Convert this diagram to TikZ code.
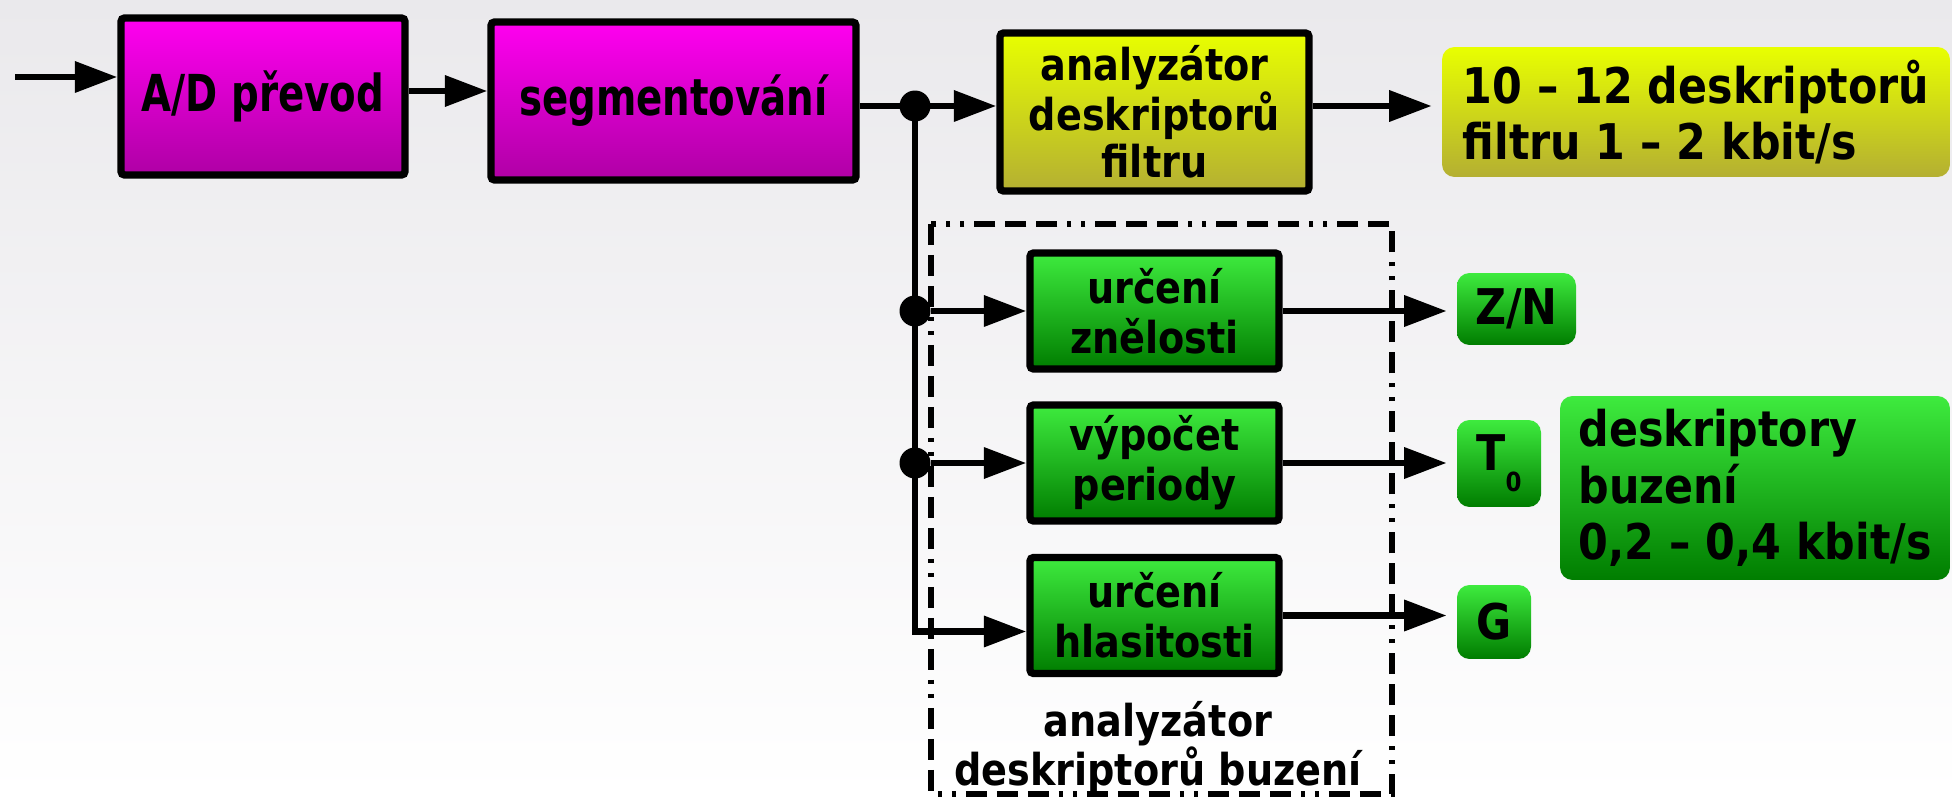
\documentclass[tikz,border=0pt]{standalone}
\usepackage{fontspec}
\setmainfont{DejaVu Sans}[FakeStretch=0.87]
\newfontfamily\condfont{DejaVu Sans}[FakeStretch=0.76]
\usetikzlibrary{arrows.meta,positioning,calc}

\definecolor{bgtop}{RGB}{234,233,236}
\definecolor{bgmid}{RGB}{250,250,250}
\definecolor{magtop}{RGB}{255,0,240}
\definecolor{magbot}{RGB}{175,0,165}
\definecolor{yeltop}{RGB}{232,255,0}
\definecolor{yelbot}{RGB}{180,175,50}
\definecolor{grntop}{RGB}{62,235,62}
\definecolor{grnbot}{RGB}{0,125,0}

\begin{document}
\begin{tikzpicture}[
    x=0.02cm, y=-0.02cm,
    font=\bfseries,
    arr/.style={-{Triangle[length=0.85cm,width=0.6cm]}, line width=3.8pt},
    wire/.style={line width=3.8pt},
    magbox/.style={rectangle, draw, line width=4.2pt, rounded corners=2pt, top color=magtop, bottom color=magbot, align=center, font=\condfont\bfseries\fontsize{29}{33}\selectfont},
    yelbox/.style={rectangle, draw, line width=4.2pt, rounded corners=2pt, top color=yeltop, bottom color=yelbot, align=center, font=\bfseries\fontsize{25}{27}\selectfont},
    grnbox/.style={rectangle, draw, line width=4.2pt, rounded corners=2pt, top color=grntop, bottom color=grnbot, align=center, font=\bfseries\fontsize{25}{28.5}\selectfont},
    res/.style={rectangle, rounded corners=0.25cm, inner sep=0pt, align=center, font=\bfseries\fontsize{28}{32}\selectfont},
    dot/.style={circle, fill, inner sep=0pt, minimum size=0.62cm},
    dashbox/.style={line width=3.8pt, dash pattern=on 0.42cm off 0.2cm on 0.42cm off 0.2cm on 0.42cm off 0.2cm on 0.08cm off 0.2cm on 0.08cm off 0.2cm},
    lbl/.style={align=center, font=\bfseries\fontsize{25}{27}\selectfont},
  ]

  % background
  \shade[top color=bgtop, middle color=bgmid, bottom color=white] (0,0) rectangle (1952,797);
  \useasboundingbox (0,0) rectangle (1952,797);

  %% top row
  \node[magbox, minimum width=5.68cm, minimum height=3.14cm] (ad)  at (263,96.5) {A/D převod};
  \node[magbox, minimum width=7.3cm,  minimum height=3.16cm] (seg) at (673.5,101) {segmentování};
  \node[yelbox, minimum width=6.18cm, minimum height=3.16cm] (ana) at (1154.5,112) {analyzátor\\deskriptorů\\filtru};
  \node[res, top color=yeltop, bottom color=yelbot, minimum width=10.16cm, minimum height=2.6cm,
        align=left] (out) at (1696,112) {10 – 12 deskriptorů\\filtru 1 – 2 kbit/s};

  %% excitation analysis
  \draw[dashbox] (931,224) rectangle (1392,794);
  \node[grnbox, minimum width=4.98cm, minimum height=2.32cm] (zne) at (1154.5,311)   {určení\\znělosti};
  \node[grnbox, minimum width=4.98cm, minimum height=2.32cm] (per) at (1154.5,463)   {výpočet\\periody};
  \node[grnbox, minimum width=4.98cm, minimum height=2.32cm] (hla) at (1154.5,615.5) {určení\\hlasitosti};
  \node[lbl] (bzlbl) at (1158,748) {analyzátor\\deskriptorů buzení};

  %% outputs
  \node[res, top color=grntop, bottom color=grnbot, minimum width=2.38cm, minimum height=1.44cm] (zn) at (1516.5,309) {Z/N};
  \node[res, top color=grntop, bottom color=grnbot, minimum width=1.68cm, minimum height=1.74cm] (t0) at (1499,463.5)
    {T\raisebox{-12pt}{\fontsize{15}{15}\selectfont 0}};
  \node[res, top color=grntop, bottom color=grnbot, minimum width=1.48cm, minimum height=1.48cm] (g)  at (1494,622) {G};
  \node[res, top color=grntop, bottom color=grnbot, minimum width=7.8cm, minimum height=3.68cm,
        align=left] (desc) at (1755,488) {deskriptory\\buzení\\0,2 – 0,4 kbit/s};

  %% connectors
  \coordinate (in) at (15,77);
  \coordinate (split) at (915,106);
  \draw[arr] (in) -- (in -| ad.west);
  \draw[arr] ([yshift=0.11cm]ad.east) -- ([yshift=0.11cm]ad.east -| seg.west);
  \draw[wire] (split -| seg.east) -- (split);
  \draw[arr] (split) -- (split -| ana.west);
  \draw[arr, shorten >=0.2cm] (split -| ana.east) -- (split -| out.west);
  \node[dot] (d0) at (split) {};
  \node[dot] (d1) at (split |- zne.west) {};
  \node[dot] (d2) at (split |- per.west) {};
  \draw[arr] (split) |- ([yshift=-0.32cm]hla.west);
  \draw[arr] (d1) -- (zne.west);
  \draw[arr] (d2) -- (per.west);
  \draw[arr, shorten >=0.2cm] (zne.east) -- (zne.east -| zn.west);
  \draw[arr, shorten >=0.2cm] (per.east) -- (per.east -| t0.west);
  \draw[arr, shorten >=0.2cm] (hla.east) -- (hla.east -| g.west);

\end{tikzpicture}
\end{document}
